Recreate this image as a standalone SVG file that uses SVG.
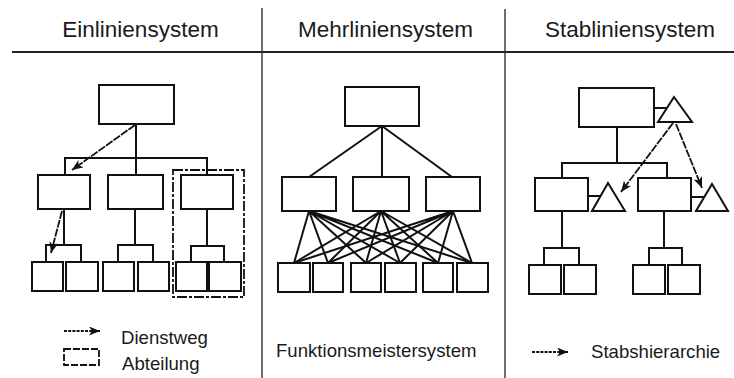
<svg xmlns="http://www.w3.org/2000/svg" width="734" height="378" viewBox="0 0 734 378">
<style>
.box{fill:#fff;stroke:#111;stroke-width:2}
.ln{fill:none;stroke:#111;stroke-width:2}
.fl{fill:none;stroke:#111;stroke-width:2}
.arr{fill:none;stroke:#111;stroke-width:1.8;stroke-dasharray:8 1.2;marker-end:url(#ah)}
.leg{fill:none;stroke:#111;stroke-width:1.8;stroke-dasharray:3 1.2;marker-end:url(#ah)}
.dash{fill:none;stroke:#111;stroke-width:1.8;stroke-dasharray:10 2 3 2}
.tri{fill:#fff;stroke:#111;stroke-width:2;stroke-linejoin:miter}
.div{stroke:#222;stroke-width:1.3}
.title{font-family:"Liberation Sans",Arial,sans-serif;font-size:22.5px;fill:#1a1a1a;text-anchor:middle}
.lbl{font-family:"Liberation Sans",Arial,sans-serif;font-size:18.6px;fill:#1a1a1a}
</style>
<defs>
<marker id="ah" markerUnits="userSpaceOnUse" markerWidth="12" markerHeight="10" refX="11" refY="4.5" orient="auto">
<path d="M0,0 L11,4.5 L0,9 L3,4.5 z" fill="#111"/>
</marker>
</defs>
<rect width="734" height="378" fill="#fff"/>

<g id="frame">
<line class="div" x1="12" y1="52" x2="734" y2="52" style="stroke-width:1.8"/>
<line class="div" x1="262" y1="8" x2="262" y2="378"/>
<line class="div" x1="505" y1="9" x2="505" y2="378"/>
</g>

<g id="titles">
<text class="title" x="140.5" y="37">Einliniensystem</text>
<text class="title" x="385.5" y="37">Mehrliniensystem</text>
<text class="title" x="630" y="37">Stabliniensystem</text>
</g>

<g id="connectors">
<path class="ln" d="M136,124 V175 M65,175 V158 H207 V175"/>
<path class="ln" d="M64,209 V245 M46,262 V245 H81 V262"/>
<path class="ln" d="M135,209 V245 M118,262 V245 H153 V262"/>
<path class="ln" d="M207,209 V246 M191,262 V246 H224 V262"/>
<line class="arr" x1="135" y1="125" x2="72" y2="170"/>
<line class="arr" x1="62" y1="211" x2="51" y2="253"/>
<path class="fl" d="M382,126 L309,177 M382,126 L382,177 M382,126 L452,177"/>
<path class="fl" d="M309,211 L294,263 M309,211 L328,263 M309,211 L366,263 M309,211 L400,263 M309,211 L438,263 M309,211 L472,263"/>
<path class="fl" d="M381,211 L294,263 M381,211 L328,263 M381,211 L366,263 M381,211 L400,263 M381,211 L438,263 M381,211 L472,263"/>
<path class="fl" d="M453,211 L294,263 M453,211 L328,263 M453,211 L366,263 M453,211 L400,263 M453,211 L438,263 M453,211 L472,263"/>
<path class="ln" d="M617,127 V163 M562,178 V163 H667 V178"/>
<path class="ln" d="M654,108 H667 M588,196 H600 M691,197 H704"/>
<path class="ln" d="M562,211 V248 M544,265 V248 H579 V265"/>
<path class="ln" d="M664,211 V248 M649,265 V248 H682 V265"/>
<line class="arr" x1="673" y1="123" x2="621" y2="192"/>
<line class="arr" x1="676" y1="124" x2="702" y2="188"/>
</g>

<g id="ein-top"><rect class="box" x="99" y="85" width="75" height="39"/></g>
<g id="ein-mid1"><rect class="box" x="38" y="175" width="52" height="34"/></g>
<g id="ein-mid2"><rect class="box" x="108" y="175" width="55" height="34"/></g>
<g id="ein-mid3"><rect class="box" x="181" y="175" width="52" height="34"/></g>
<g id="ein-b1"><rect class="box" x="32" y="262" width="31" height="29"/></g>
<g id="ein-b2"><rect class="box" x="66" y="262" width="32" height="29"/></g>
<g id="ein-b3"><rect class="box" x="103" y="262" width="31" height="29"/></g>
<g id="ein-b4"><rect class="box" x="138" y="262" width="31" height="29"/></g>
<g id="ein-b5"><rect class="box" x="176" y="262" width="31" height="29"/></g>
<g id="ein-b6"><rect class="box" x="209" y="262" width="32" height="29"/></g>
<g id="ein-abteilung"><rect class="dash" x="173" y="170" width="71" height="127"/></g>

<g id="mehr-top"><rect class="box" x="345" y="87" width="74" height="39"/></g>
<g id="mehr-mid1"><rect class="box" x="282" y="177" width="54" height="34"/></g>
<g id="mehr-mid2"><rect class="box" x="353" y="177" width="56" height="34"/></g>
<g id="mehr-mid3"><rect class="box" x="426" y="177" width="54" height="34"/></g>
<g id="mehr-b1"><rect class="box" x="278" y="263" width="32" height="29"/></g>
<g id="mehr-b2"><rect class="box" x="313" y="263" width="30" height="29"/></g>
<g id="mehr-b3"><rect class="box" x="351" y="263" width="30" height="29"/></g>
<g id="mehr-b4"><rect class="box" x="385" y="263" width="31" height="29"/></g>
<g id="mehr-b5"><rect class="box" x="423" y="263" width="30" height="29"/></g>
<g id="mehr-b6"><rect class="box" x="457" y="263" width="31" height="29"/></g>

<g id="stab-top"><rect class="box" x="579" y="88" width="75" height="39"/></g>
<g id="stab-top-stab"><polygon class="tri" points="674,97 692,122 658,122"/></g>
<g id="stab-mid1"><rect class="box" x="535" y="178" width="53" height="33"/></g>
<g id="stab-mid1-stab"><polygon class="tri" points="608,183 625,211 592,211"/></g>
<g id="stab-mid2"><rect class="box" x="638" y="178" width="53" height="33"/></g>
<g id="stab-mid2-stab"><polygon class="tri" points="712,184 728,211 696,211"/></g>
<g id="stab-b1"><rect class="box" x="529" y="265" width="32" height="29"/></g>
<g id="stab-b2"><rect class="box" x="564" y="265" width="32" height="29"/></g>
<g id="stab-b3"><rect class="box" x="633" y="265" width="32" height="29"/></g>
<g id="stab-b4"><rect class="box" x="668" y="265" width="32" height="29"/></g>

<g id="legend">
<line class="leg" x1="64" y1="331" x2="100" y2="331"/>
<text class="lbl" x="121" y="344">Dienstweg</text>
<rect class="dash" x="64" y="349" width="35" height="16" style="stroke-dasharray:7 2"/>
<text class="lbl" x="122" y="370">Abteilung</text>
<text class="lbl" x="276" y="357">Funktionsmeistersystem</text>
<line class="leg" x1="532" y1="352" x2="568" y2="352"/>
<text class="lbl" x="591" y="358">Stabshierarchie</text>
</g>
</svg>
